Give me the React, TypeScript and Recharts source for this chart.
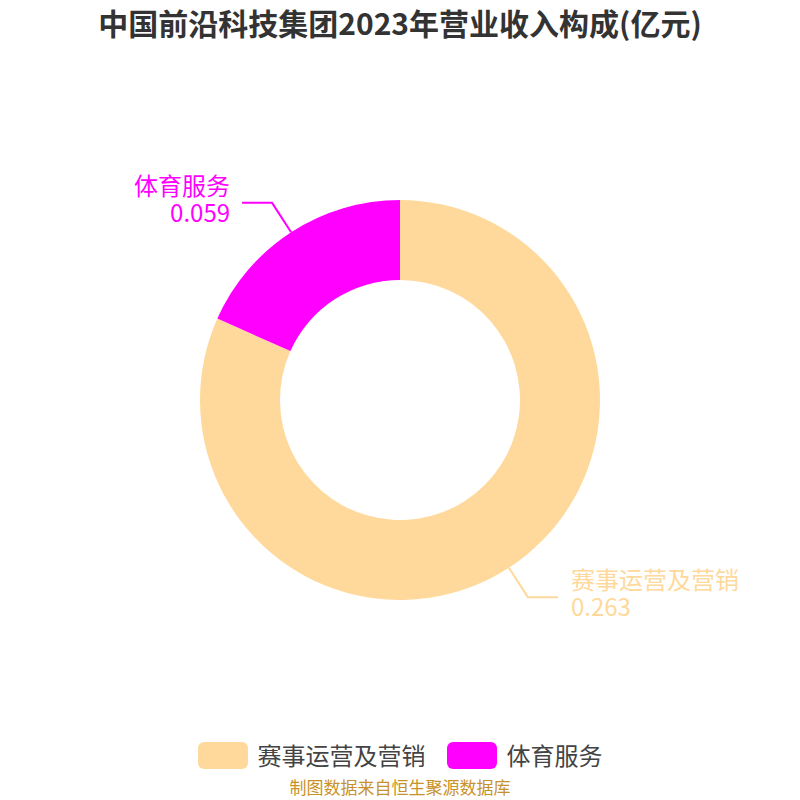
import { PieChart, Pie, Cell, Legend } from 'recharts';

// ─── Data ────────────────────────────────────────────
const categories = ['赛事运营及营销', '体育服务'];
const revenue = [0.263, 0.059];
const colors = ['#FFD99B', '#FF00FF'];

const chartData = categories.map((name, i) => ({ name, value: revenue[i] }));

const FONT = '"Noto Sans CJK SC", "Noto Sans", sans-serif';
const RADIAN = Math.PI / 180;

// Label with a bent leader line, text in the slice colour (name + value on two lines)
function renderLabel(props: any) {
  const { cx, cy, midAngle, outerRadius, index, value, name } = props;
  const cos = Math.cos(-midAngle * RADIAN);
  const sin = Math.sin(-midAngle * RADIAN);
  const sx = cx + outerRadius * cos;
  const sy = cy + outerRadius * sin;
  const mx = cx + (outerRadius + 35) * cos;
  const my = cy + (outerRadius + 35) * sin;
  const right = cos >= 0;
  const ex = mx + (right ? 30 : -30);
  const tx = ex + (right ? 13 : -12);
  const color = colors[index % colors.length];
  return (
    <g>
      <polyline
        points={`${sx},${sy} ${mx},${my} ${ex},${my}`}
        stroke={color}
        strokeWidth={2}
        fill="none"
      />
      <text
        x={tx}
        y={my - 8}
        fill={color}
        fontSize={24}
        fontFamily={FONT}
        textAnchor={right ? 'start' : 'end'}
      >
        <tspan x={tx} y={my - 8}>{name}</tspan>
        <tspan x={tx} y={my + 19}>{value}</tspan>
      </text>
    </g>
  );
}

function renderLegend() {
  return (
    <div style={{ fontFamily: FONT }}>
      <div style={{ display: 'flex', justifyContent: 'center', alignItems: 'center' }}>
        {chartData.map((entry, i) => (
          <div key={entry.name} style={{ display: 'flex', alignItems: 'center', marginRight: i === 0 ? 21 : 0 }}>
            <span
              style={{
                display: 'inline-block',
                width: 50,
                height: 27,
                borderRadius: 6,
                backgroundColor: colors[i],
                marginRight: 10,
              }}
            />
            <span style={{ fontSize: 24, color: '#444', lineHeight: '30px' }}>{entry.name}</span>
          </div>
        ))}
      </div>
      <div style={{ textAlign: 'center', fontSize: 17, color: '#C8922A', marginTop: 6, lineHeight: '22px' }}>
        制图数据来自恒生聚源数据库
      </div>
    </div>
  );
}

export default function App() {
  return (
    <div style={{ position: 'absolute', left: 0, top: 0, width: 800, height: 800, background: '#fff' }}>
      <div
        style={{
          position: 'absolute',
          top: 2,
          left: 0,
          width: 800,
          textAlign: 'center',
          fontFamily: FONT,
          fontWeight: 'bold',
          fontSize: 30,
          lineHeight: '40px',
          color: '#333',
        }}
      >
        中国前沿科技集团2023年营业收入构成(亿元)
      </div>
      <PieChart width={800} height={800} margin={{ top: 0, right: 0, bottom: 0, left: 0 }}>
        <Pie
          data={chartData}
          dataKey="value"
          nameKey="name"
          cx={400}
          cy={400}
          innerRadius={120}
          outerRadius={200}
          startAngle={90}
          endAngle={-270}
          stroke="none"
          label={renderLabel}
          labelLine={false}
          isAnimationActive={false}
        >
          {chartData.map((entry, index) => (
            <Cell key={entry.name} fill={colors[index]} />
          ))}
        </Pie>
        <Legend
          content={renderLegend}
          wrapperStyle={{ position: 'absolute', top: 740, left: 0, width: 800 }}
        />
      </PieChart>
    </div>
  );
}
